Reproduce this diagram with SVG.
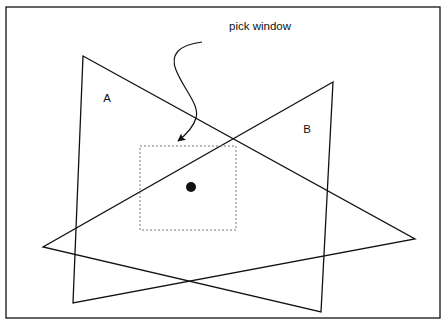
<svg xmlns="http://www.w3.org/2000/svg" width="441" height="329" viewBox="0 0 441 329">
<style>
.shape{fill:none;stroke:#111;stroke-width:1.3;stroke-linejoin:miter}
.lbl{font-family:"Liberation Sans",Arial,sans-serif;font-size:11.5px;fill:#111}
</style>
<defs>
<marker id="ah" viewBox="0 0 10 10" refX="9" refY="5" markerWidth="12" markerHeight="8" markerUnits="userSpaceOnUse" orient="auto">
<path d="M0,0 L10,5 L0,10 L2,5 Z" fill="#111"/>
</marker>
</defs>
<rect width="441" height="329" fill="#fff"/>
<g id="frame"><rect x="6" y="7" width="434" height="311" class="shape"/></g>
<g id="triangleA"><polygon points="83,56 415,239 73,303" class="shape"/><text x="107" y="102" class="lbl" text-anchor="middle">A</text></g>
<g id="triangleB"><polygon points="333,82 43,247 321,312" class="shape"/><text x="307" y="133" class="lbl" text-anchor="middle">B</text></g>
<g id="pickwindow"><rect x="140" y="146" width="96" height="84" fill="none" stroke="#777" stroke-width="1" stroke-dasharray="2,2"/><circle cx="191" cy="187" r="5" fill="#111"/></g>
<g id="label"><text x="260" y="30" class="lbl" text-anchor="middle">pick window</text></g>
<g id="connectors"><path d="M202,42 C178,45 170,55 176,70 C184,90 200,105 196,118 Q193,129 178,141" fill="none" stroke="#111" stroke-width="1.2" marker-end="url(#ah)"/></g>
</svg>
